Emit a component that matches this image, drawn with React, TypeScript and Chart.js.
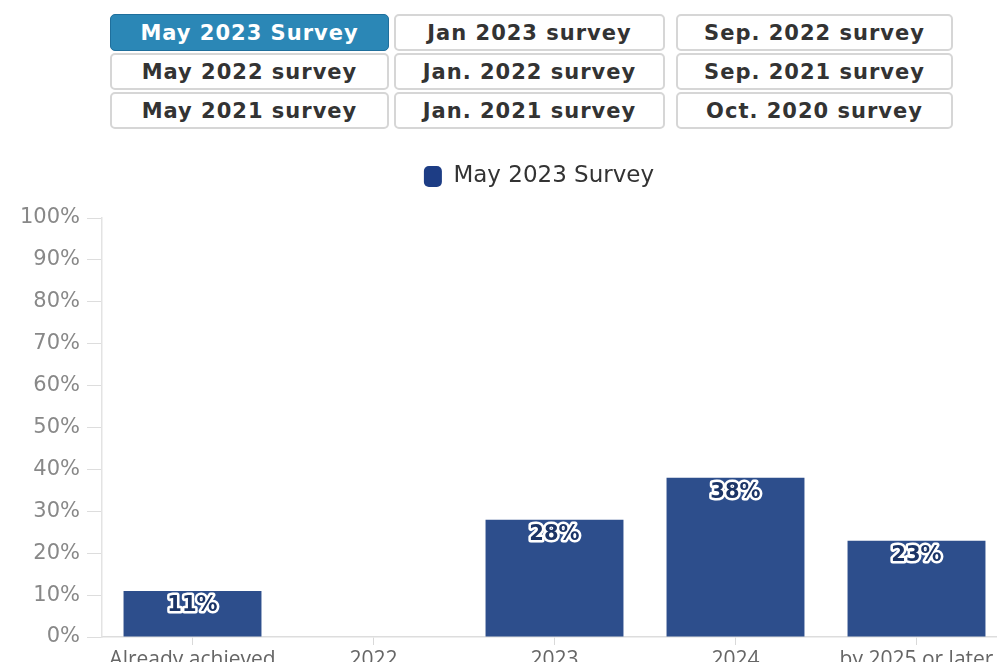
import React, { useEffect, useRef } from "react";
import { Chart, registerables } from "chart.js";

Chart.register(...registerables);

const buttonRows: string[][] = [
  ["May 2023 Survey", "Jan 2023 survey", "Sep. 2022 survey"],
  ["May 2022 survey", "Jan. 2022 survey", "Sep. 2021 survey"],
  ["May 2021 survey", "Jan. 2021 survey", "Oct. 2020 survey"],
];
const activeButton = "May 2023 Survey";

const categories = ["Already achieved", "2022", "2023", "2024", "by 2025 or later"];
const seriesName = "May 2023 Survey";
const seriesValues = [11, 0, 28, 38, 23];
const yTickValues = [0, 10, 20, 30, 40, 50, 60, 70, 80, 90, 100];

const BAR = "#2d4e8c";
const LEGEND_BOX = "#1d3d85";

const colLefts = [110, 394, 676];
const colWidths = [279, 271, 277];
const rowTops = [14, 53, 92];

const legendMargin = {
  id: "legendMargin",
  beforeInit(chart: any) {
    const lg = chart.legend;
    if (!lg || lg.__patched) return;
    const orig = lg.fit;
    lg.fit = function () {
      orig.call(this);
      this.height += 20;
    };
    lg.__patched = true;
  },
};

const barLabels = {
  id: "barLabels",
  afterDatasetsDraw(chart: any) {
    const ctx = chart.ctx;
    const meta = chart.getDatasetMeta(0);
    const data = chart.data.datasets[0].data;
    ctx.save();
    ctx.font = "bold 21px 'DejaVu Sans'";
    ctx.textAlign = "center";
    ctx.textBaseline = "middle";
    ctx.lineJoin = "round";
    meta.data.forEach((el: any, i: number) => {
      const v = data[i];
      if (!v) return;
      const t = v + "%";
      ctx.strokeStyle = "#ffffff";
      ctx.lineWidth = 5;
      ctx.strokeText(t, el.x, el.y + 15);
      ctx.fillStyle = "#1b3466";
      ctx.fillText(t, el.x, el.y + 15);
    });
    ctx.restore();
  },
};

function ChartCanvas() {
  const ref = useRef<HTMLCanvasElement | null>(null);
  useEffect(() => {
    if (!ref.current) return;
    const chart = new Chart(ref.current, {
      type: "bar",
      data: {
        labels: categories,
        datasets: [
          {
            label: seriesName,
            data: seriesValues,
            backgroundColor: BAR,
            borderWidth: 0,
            barPercentage: 0.762,
            categoryPercentage: 1,
          },
        ],
      },
      options: {
        responsive: false,
        animation: false,
        devicePixelRatio: 1,
        layout: { padding: { left: 71, top: 0, right: 0, bottom: 0 } },
        plugins: {
          legend: {
            display: true,
            position: "top",
            labels: {
              font: { family: "'DejaVu Sans'", size: 23 },
              color: "#333333",
              boxWidth: 18,
              boxHeight: 21,
              padding: 10,
              useBorderRadius: true,
              borderRadius: 5,
              generateLabels: (c: any) => {
                const items = Chart.defaults.plugins.legend.labels.generateLabels(c);
                return items.map((it: any) => ({
                  ...it,
                  fillStyle: LEGEND_BOX,
                  strokeStyle: LEGEND_BOX,
                  lineWidth: 0,
                }));
              },
            },
          },
          tooltip: { enabled: false },
        },
        scales: {
          x: {
            offset: true,
            grid: {
              offset: false,
              drawOnChartArea: false,
              drawTicks: true,
              tickLength: 8,
              color: "#d9d9d9",
            },
            border: { display: true, color: "#dddddd", width: 1.5 },
            ticks: {
              font: { family: "'Open Sans'", size: 21 },
              color: "#666666",
              padding: 2,
              maxRotation: 0,
              autoSkip: false,
            },
            afterFit: (s: any) => {
              s.height = 40;
            },
          },
          y: {
            min: 0,
            max: 100,
            afterBuildTicks: (s: any) => {
              s.ticks = yTickValues.map((v) => ({ value: v }));
            },
            grid: {
              drawOnChartArea: false,
              drawTicks: true,
              tickLength: 15,
              color: "#dddddd",
            },
            border: { display: true, color: "#e3e3e3", width: 1.5 },
            ticks: {
              font: { family: "'DejaVu Sans'", size: 21 },
              color: "#888888",
              padding: 7,
              callback: (v: any) => v + "%",
            },
            afterFit: (s: any) => {
              s.width = 31;
              s._computeLabelArea = () => undefined;
            },
          },
        },
      },
      plugins: [legendMargin, barLabels],
    } as any);
    return () => chart.destroy();
  }, []);
  return (
    <canvas
      ref={ref}
      width={1007}
      height={522}
      style={{ position: "absolute", left: 0, top: 155, width: 1007, height: 522 }}
    />
  );
}

export default function App() {
  return (
    <div
      style={{
        position: "fixed",
        left: 0,
        top: 0,
        width: 997,
        height: 662,
        overflow: "hidden",
        background: "#ffffff",
      }}
    >
      {buttonRows.map((row, ri) =>
        row.map((label, ci) => {
          const active = label === activeButton;
          return (
            <div
              key={label}
              style={{
                position: "absolute",
                left: colLefts[ci],
                top: rowTops[ri],
                width: colWidths[ci],
                height: 37,
                boxSizing: "border-box",
                border: active ? "1.5px solid #1f6f9c" : "2px solid #d6d6d6",
                borderRadius: 5,
                background: active ? "#2b87b6" : "#ffffff",
                color: active ? "#ffffff" : "#333333",
                fontFamily: "'DejaVu Sans', sans-serif",
                fontWeight: "bold",
                fontSize: 21,
                letterSpacing: 1,
                display: "flex",
                alignItems: "center",
                justifyContent: "center",
                whiteSpace: "nowrap",
              }}
            >
              {label}
            </div>
          );
        })
      )}
      <ChartCanvas />
    </div>
  );
}
